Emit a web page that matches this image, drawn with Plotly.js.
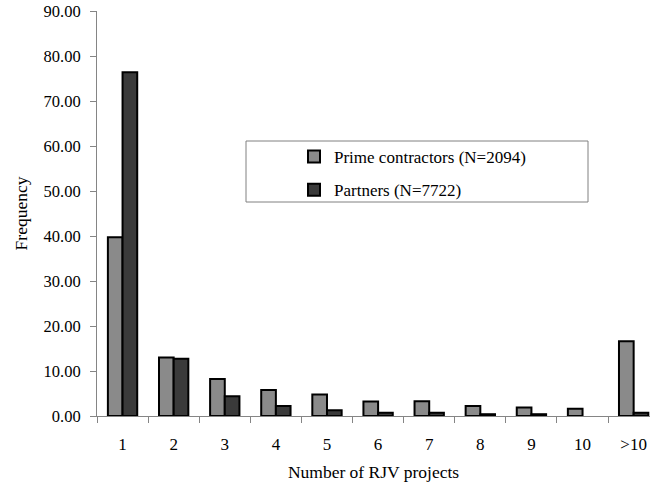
<!DOCTYPE html>
<html>
<head>
<meta charset="utf-8">
<script src="https://cdn.plot.ly/plotly-3.0.1.min.js"></script>
<style>
  html, body { margin: 0; padding: 0; background: #fff; }
  #chart { width: 650px; height: 492px; }
</style>
</head>
<body>
<div id="chart"></div>
<script>
// Number of RJV projects per participant
const categories = ["1", "2", "3", "4", "5", "6", "7", "8", "9", "10", ">10"];
const primeContractors = [39.7, 13.0, 8.2, 5.8, 4.8, 3.2, 3.3, 2.2, 1.9, 1.6, 16.6];
const partners = [76.4, 12.7, 4.4, 2.2, 1.3, 0.7, 0.7, 0.4, 0.4, null, 0.7];
const yTicks = [0, 10, 20, 30, 40, 50, 60, 70, 80, 90];

const FONT = "'Liberation Serif', 'Times New Roman', serif";
const AXIS_GREY = "#858585";

// plot-area pixel geometry used to place the legend frame
const L = 97, R = 650, T = 11, B = 416;
const px = X => (X - L) / (R - L);
const py = Y => (B - Y) / (B - T);

const traces = [
  {
    type: "bar",
    name: "Prime contractors (N=2094)",
    x: categories,
    y: primeContractors,
    legendgroup: "prime",
    marker: { color: "#8a8a8a", line: { color: "#000", width: 2 } }
  },
  {
    type: "bar",
    name: "Partners (N=7722)",
    x: categories,
    y: partners,
    legendgroup: "partners",
    marker: { color: "#3a3a3a", line: { color: "#000", width: 2 } }
  }
];

const layout = {
  width: 650,
  height: 492,
  margin: { l: L, r: 0, t: T, b: 492 - B },
  paper_bgcolor: "#fff",
  plot_bgcolor: "#fff",
  font: { family: FONT, color: "#000", size: 17 },
  barmode: "group",
  bargap: 0.426,
  bargroupgap: 0,
  showlegend: true,
  legend: {
    x: px(294), y: py(139), xanchor: "left", yanchor: "top",
    bgcolor: "rgba(0,0,0,0)", borderwidth: 0,
    traceorder: "grouped", tracegroupgap: 8,
    font: { family: FONT, size: 17, color: "#000" }
  },
  shapes: [{
    type: "rect", xref: "paper", yref: "paper",
    x0: px(246), x1: px(588), y0: py(202), y1: py(141),
    line: { color: "#808080", width: 1 }, fillcolor: "rgba(0,0,0,0)"
  }],
  xaxis: {
    type: "category",
    categoryorder: "array",
    categoryarray: categories,
    range: [-0.5, 10.32],
    showline: true, linecolor: AXIS_GREY, linewidth: 1,
    ticks: "outside", tickson: "boundaries", ticklen: 6, tickcolor: AXIS_GREY,
    ticklabelstandoff: 13,
    showgrid: false, zeroline: false,
    tickfont: { family: FONT, size: 17, color: "#000" },
    title: { text: "Number of RJV projects", font: { family: FONT, size: 17.5, color: "#000" }, standoff: 12 }
  },
  yaxis: {
    range: [0, 90],
    tickvals: yTicks,
    tickformat: ".2f",
    showline: true, linecolor: AXIS_GREY, linewidth: 1,
    ticks: "outside", ticklen: 6, tickcolor: AXIS_GREY,
    ticklabelstandoff: 6,
    showgrid: false, zeroline: false,
    tickfont: { family: FONT, size: 16.5, color: "#000" },
    title: { text: "Frequency", font: { family: FONT, size: 17.5, color: "#000" }, standoff: 11 }
  }
};

Plotly.newPlot("chart", traces, layout, { staticPlot: true, displayModeBar: false });
</script>
</body>
</html>
